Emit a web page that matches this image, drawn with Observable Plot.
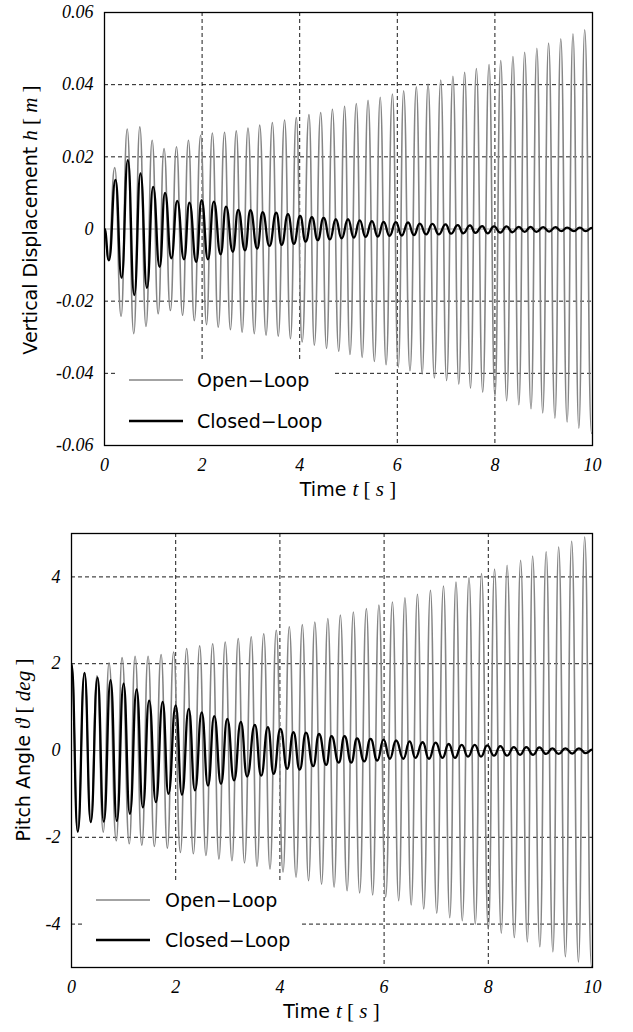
<!DOCTYPE html>
<html><head><meta charset="utf-8">
<script src="https://cdn.jsdelivr.net/npm/d3@7"></script>
<script src="https://cdn.jsdelivr.net/npm/@observablehq/plot@0.6"></script>
<style>
body{margin:0;background:#fff;}
#wrap{position:relative;width:633px;height:1032px;overflow:hidden;}
#wrap svg{position:absolute;left:0;}
</style>
</head><body><div id="wrap"></div>
<script>
// ---------- Data: extrema (time s, value) ----------
// Top panel: vertical displacement h [m]
const hOpenT = [0,0.08,0.21,0.34,0.465,0.60,0.724,0.85,0.977,1.10,1.22,1.35,1.475,1.60,1.72,1.84,1.97,2.09,2.21,2.33,2.46,2.58,2.70,2.82,2.94,3.07,3.18,3.31,3.44,3.56,3.69,3.81,3.93,4.05,4.19,4.30,4.43,4.55,4.67,4.80,4.92,5.03,5.16,5.28,5.40,5.53,5.65,5.77,5.90,6.02,6.13,6.26,6.39,6.51,6.63,6.76,6.89,7.01,7.14,7.26,7.38,7.50,7.62,7.75,7.88,8.00,8.12,8.24,8.37,8.49,8.61,8.74,8.86,8.98,9.10,9.23,9.35,9.48,9.60,9.72,9.84,9.98];
const hOpenV = [0,-0.0085,0.017,-0.0242,0.0277,-0.029,0.0283,-0.027,0.0246,-0.0235,0.0223,-0.0226,0.0228,-0.0239,0.0246,-0.0254,0.026,-0.0265,0.0266,-0.0272,0.0268,-0.0279,0.0272,-0.0286,0.028,-0.029,0.0288,-0.0294,0.0295,-0.0297,0.0302,-0.0304,0.0309,-0.0313,0.0317,-0.0322,0.0323,-0.0331,0.0332,-0.0339,0.034,-0.0348,0.0348,-0.0356,0.0357,-0.0367,0.0365,-0.0376,0.0374,-0.0383,0.0383,-0.0393,0.0394,-0.0402,0.0402,-0.0413,0.0413,-0.042,0.0423,-0.043,0.0434,-0.0441,0.0445,-0.0452,0.0456,-0.0464,0.0467,-0.0476,0.0478,-0.0487,0.049,-0.0498,0.0501,-0.051,0.0515,-0.0524,0.0527,-0.0535,0.0541,-0.0552,0.0552,-0.0566];
const hClosedT = [0,0.09,0.225,0.35,0.478,0.61,0.738,0.87,0.997,1.13,1.24,1.37,1.49,1.63,1.74,1.88,1.99,2.12,2.24,2.38,2.49,2.63,2.74,2.88,2.99,3.13,3.24,3.38,3.52,3.63,3.76,3.88,4.01,4.12,4.25,4.37,4.49,4.62,4.74,4.86,4.99,5.11,5.23,5.35,5.48,5.60,5.72,5.84,5.97,6.09,6.22,6.34,6.46,6.59,6.72,6.85,6.99,7.10,7.24,7.35,7.49,7.60,7.74,7.85,7.98,8.11,8.24,8.36,8.49,8.61,8.73,8.85,8.99,9.11,9.24,9.36,9.48,9.62,9.74,9.86,9.99];
const hClosedV = [0,-0.0087,0.0136,-0.0135,0.0191,-0.0183,0.0154,-0.0163,0.0117,-0.0105,0.010,-0.0081,0.0078,-0.0084,0.0073,-0.0091,0.008,-0.0084,0.0076,-0.007,0.0062,-0.0063,0.0053,-0.0059,0.0052,-0.0054,0.0047,-0.0047,0.0045,-0.0044,0.0041,-0.0041,0.0036,-0.0035,0.0033,-0.0031,0.0031,-0.0029,0.0027,-0.0026,0.0027,-0.0024,0.0024,-0.0022,0.0022,-0.0021,0.002,-0.0019,0.0019,-0.0018,0.0018,-0.0017,0.0015,-0.0015,0.0014,-0.0015,0.0013,-0.0013,0.0011,-0.0012,0.001,-0.0011,0.0008,-0.0012,0.0007,-0.001,0.0007,-0.0009,0.0006,-0.0008,0.0006,-0.0008,0.0005,-0.0007,0.0005,-0.0006,0.0004,-0.0006,0.0004,-0.0006,0.0003];
// Bottom panel: pitch angle [deg]
const pOpenT = [0,0.12,0.25,0.37,0.49,0.61,0.72,0.86,0.97,1.11,1.22,1.35,1.47,1.59,1.72,1.84,1.96,2.09,2.21,2.34,2.46,2.58,2.71,2.83,2.95,3.08,3.20,3.32,3.45,3.56,3.69,3.81,3.93,4.06,4.18,4.31,4.43,4.55,4.67,4.80,4.92,5.04,5.16,5.29,5.41,5.53,5.66,5.78,5.90,6.03,6.16,6.28,6.40,6.52,6.64,6.76,6.89,7.01,7.14,7.26,7.38,7.50,7.63,7.75,7.87,8.00,8.12,8.25,8.36,8.50,8.62,8.75,8.85,8.99,9.11,9.24,9.35,9.48,9.60,9.73,9.85,9.98];
const pOpenV = [2.0,-1.87,1.79,-1.66,1.72,-1.88,2.02,-2.08,2.14,-2.15,2.17,-2.18,2.17,-2.21,2.21,-2.25,2.27,-2.35,2.35,-2.38,2.41,-2.42,2.46,-2.5,2.5,-2.54,2.58,-2.59,2.62,-2.67,2.69,-2.73,2.77,-2.8,2.85,-2.92,2.9,-3.0,2.96,-3.08,3.04,-3.15,3.12,-3.23,3.19,-3.28,3.27,-3.33,3.35,-3.38,3.42,-3.46,3.52,-3.56,3.6,-3.65,3.69,-3.75,3.79,-3.85,3.88,-3.92,3.98,-4.0,4.08,-4.12,4.18,-4.21,4.27,-4.31,4.38,-4.41,4.48,-4.52,4.58,-4.64,4.69,-4.75,4.82,-4.87,4.92,-4.98];
const pClosedT = [0,0.12,0.25,0.37,0.50,0.62,0.75,0.87,1.0,1.12,1.25,1.37,1.49,1.62,1.75,1.86,2.0,2.12,2.25,2.37,2.5,2.62,2.74,2.87,2.99,3.12,3.25,3.37,3.52,3.64,3.77,3.88,4.01,4.14,4.26,4.38,4.5,4.64,4.75,4.89,4.99,5.13,5.24,5.37,5.48,5.62,5.74,5.87,5.99,6.11,6.23,6.37,6.49,6.60,6.74,6.86,6.99,7.12,7.24,7.36,7.49,7.61,7.74,7.86,7.98,8.11,8.23,8.36,8.49,8.61,8.73,8.86,8.98,9.11,9.23,9.35,9.48,9.61,9.74,9.87,10];
const pClosedV = [2.0,-1.87,1.79,-1.65,1.68,-1.64,1.62,-1.62,1.54,-1.46,1.41,-1.31,1.15,-1.19,1.12,-1.0,1.04,-1.02,0.96,-0.92,0.88,-0.81,0.79,-0.77,0.73,-0.69,0.66,-0.6,0.59,-0.58,0.54,-0.54,0.5,-0.42,0.42,-0.44,0.41,-0.36,0.38,-0.33,0.33,-0.28,0.33,-0.28,0.28,-0.25,0.27,-0.23,0.25,-0.19,0.23,-0.19,0.21,-0.17,0.19,-0.19,0.18,-0.17,0.15,-0.17,0.13,-0.14,0.13,-0.14,0.12,-0.12,0.10,-0.12,0.08,-0.10,0.08,-0.10,0.07,-0.08,0.05,-0.08,0.05,-0.07,0.05,-0.06,0.02];

// ---------- Ticks ----------
const xTicks = [0,2,4,6,8,10];
const xGrid = [2,4,6,8];
const hTicks = [-0.06,-0.04,-0.02,0,0.02,0.04,0.06];
const hGrid = [-0.04,-0.02,0.02,0.04];
const pTicks = [-4,-2,0,2,4];
const pGrid = [-4,-2,2,4];
const seriesNames = ["Open\u2212Loop","Closed\u2212Loop"];

const toRows = (T, V) => T.map((t, i) => ({t, v: V[i]}));

const SERIF = "'Liberation Serif','DejaVu Serif',serif";
const SANS = "'DejaVu Sans',sans-serif";
const GRAY = "#858585";

function panel(cfg) {
  const chart = Plot.plot({
    width: 633, height: cfg.height,
    marginLeft: cfg.ml, marginRight: 41, marginTop: cfg.mt, marginBottom: cfg.mb,
    style: {fontFamily: SERIF, fontSize: "18px", fontStyle: "italic", background: "#fff", color: "#000"},
    x: {domain: [0, 10]},
    y: {domain: cfg.yDomain},
    marks: [
      Plot.gridX(xGrid, {stroke: "#000", strokeOpacity: 1, strokeWidth: 0.9, strokeDasharray: "4,3"}),
      Plot.gridY(cfg.yGrid, {stroke: "#000", strokeOpacity: 1, strokeWidth: 0.9, strokeDasharray: "4,3"}),
      Plot.ruleY([0], {stroke: "#999", strokeWidth: 1}),
      Plot.line(toRows(cfg.openT, cfg.openV), {x: "t", y: "v", curve: "bump-x", stroke: GRAY, strokeWidth: 1.6, clip: true}),
      Plot.line(toRows(cfg.closedT, cfg.closedV), {x: "t", y: "v", curve: "bump-x", stroke: "#000", strokeWidth: 2.3, clip: true}),
      Plot.frame({stroke: "#000", strokeWidth: 1.3}),
      Plot.axisX({ticks: xTicks, tickSize: 0, tickPadding: 13, label: null, tickFormat: d => String(d), fontSize: 18, fontStyle: "italic", fontFamily: SERIF}),
      Plot.axisY({ticks: cfg.yTicks, tickSize: 0, tickPadding: 11, label: null, tickFormat: d => String(d), fontSize: 18, fontStyle: "italic", fontFamily: SERIF})
    ]
  });
  chart.style.top = cfg.top + "px";
  const svg = d3.select(chart);
  const W = 633, ml = cfg.ml, fw = W - 41 - ml;

  // x-axis title
  const xt = svg.append("text").attr("x", ml + fw / 2).attr("y", cfg.xTitleY)
    .attr("text-anchor", "middle").style("font-style", "normal").style("font-family", SANS).style("font-size", "19px");
  xt.append("tspan").text("Time ");
  xt.append("tspan").text("t").style("font-family", SERIF).style("font-style", "italic").style("font-size", "21px");
  xt.append("tspan").text(" [ ").style("font-family", SERIF).style("font-style", "normal").style("font-size", "21px");
  xt.append("tspan").text("s").style("font-family", SERIF).style("font-style", "italic").style("font-size", "21px");
  xt.append("tspan").text(" ]").style("font-family", SERIF).style("font-style", "normal").style("font-size", "21px");

  // y-axis title
  const yt = svg.append("text").attr("transform", `translate(${cfg.yTitleX},${cfg.yTitleC}) rotate(-90)`)
    .attr("text-anchor", "middle").style("font-style", "normal").style("font-family", SANS).style("font-size", "19px");
  yt.append("tspan").text(cfg.yLabel + " ");
  yt.append("tspan").text(cfg.ySym).style("font-family", SERIF).style("font-style", "italic").style("font-size", "21px");
  yt.append("tspan").text(" [ ").style("font-family", SERIF).style("font-style", "normal").style("font-size", "21px");
  yt.append("tspan").text(cfg.yUnit).style("font-family", SERIF).style("font-style", "italic").style("font-size", "21px");
  yt.append("tspan").text(" ]").style("font-family", SERIF).style("font-style", "normal").style("font-size", "21px");

  // legend
  const L = cfg.legend;
  const g = svg.append("g").attr("text-anchor", "start");
  g.append("rect").attr("x", L.x).attr("y", L.y).attr("width", L.w).attr("height", L.h).attr("fill", "#fff");
  const rows = [{name: seriesNames[0], stroke: GRAY, sw: 1.6}, {name: seriesNames[1], stroke: "#000", sw: 2.5}];
  rows.forEach((r, i) => {
    const yy = L.y + L.row0 + i * L.dy;
    g.append("line").attr("x1", L.lx).attr("x2", L.lx + 54).attr("y1", yy).attr("y2", yy)
      .attr("stroke", r.stroke).attr("stroke-width", r.sw);
    g.append("text").attr("x", L.tx).attr("y", yy).attr("dy", "0.35em").attr("text-anchor", "start").text(r.name)
      .style("font-family", SANS).style("font-style", "normal").style("font-size", "19px");
  });
  document.getElementById("wrap").appendChild(chart);
}

panel({
  top: 0, height: 510, ml: 104, mt: 12, mb: 65,
  yDomain: [-0.06, 0.06], yTicks: hTicks, yGrid: hGrid,
  openT: hOpenT, openV: hOpenV, closedT: hClosedT, closedV: hClosedV,
  xTitleY: 496, yTitleX: 37, yTitleC: 220,
  yLabel: "Vertical Displacement", ySym: "h", yUnit: "m",
  legend: {x: 116, y: 359, w: 218, h: 84, row0: 21, dy: 41, lx: 129, tx: 197}
});
panel({
  top: 510, height: 522, ml: 71, mt: 23, mb: 65,
  yDomain: [-5, 5], yTicks: pTicks, yGrid: pGrid,
  openT: pOpenT, openV: pOpenV, closedT: pClosedT, closedV: pClosedV,
  xTitleY: 508, yTitleX: 30, yTitleC: 240,
  yLabel: "Pitch Angle", ySym: "\u03D1", yUnit: "deg",
  legend: {x: 84, y: 370, w: 215, h: 85, row0: 20, dy: 40, lx: 96, tx: 165}
});
</script>
</body></html>
